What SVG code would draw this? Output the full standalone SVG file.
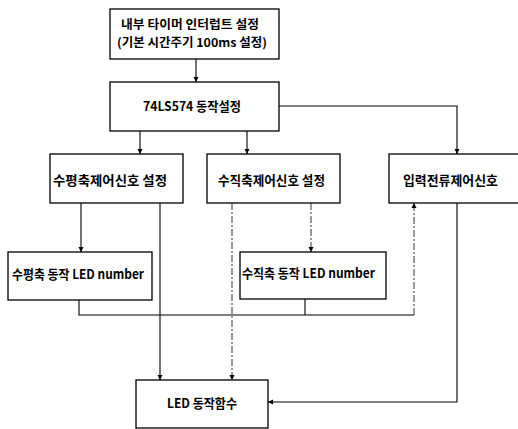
<svg xmlns="http://www.w3.org/2000/svg" width="518" height="429" viewBox="0 0 518 429">
<defs>
<marker id="ah" viewBox="0 0 10 10" refX="10" refY="5" markerWidth="5" markerHeight="7" markerUnits="userSpaceOnUse" orient="auto">
<path d="M0,0 L10,5 L0,10 z" fill="#000"/>
</marker>
<style>
.box{fill:#fff;stroke:#000;stroke-width:1.3}
.t{font-family:"Noto Sans CJK KR","Liberation Sans",sans-serif;font-size:13px;font-weight:bold;fill:#000}
.s{font-size:12px}
.c{fill:none;stroke:#000;stroke-width:1.1}
.d{fill:none;stroke:#333;stroke-width:1;stroke-dasharray:7,2,2,2}
</style>
</defs>
<rect width="518" height="429" fill="#fff"/>
<g id="connectors">
<path class="c" d="M196,59 V82" marker-end="url(#ah)"/>
<path class="c" d="M279,106 H457 V154" marker-end="url(#ah)"/>
<path class="c" d="M140,131 V154" marker-end="url(#ah)"/>
<path class="c" d="M247,131 V154" marker-end="url(#ah)"/>
<path class="c" d="M81,203 V252" marker-end="url(#ah)"/>
<path class="c" d="M160,203 V380" marker-end="url(#ah)"/>
<path class="d" d="M232,203 V380" marker-end="url(#ah)"/>
<path class="d" d="M311,203 V252" marker-end="url(#ah)"/>
<path class="c" d="M79,300 V315 H414"/>
<path class="d" d="M414,315 V203" marker-end="url(#ah)"/>
<path class="c" d="M305,299 V315"/>
<path class="c" d="M457,203 V402 H268" marker-end="url(#ah)"/>
</g>
<g id="n1">
<rect class="box" x="110" y="9" width="169" height="50"/>
<text class="t s" x="121" y="29" textLength="138" lengthAdjust="spacingAndGlyphs">내부 타이머 인터럽트 설정</text>
<text class="t s" x="117" y="47" textLength="150" lengthAdjust="spacingAndGlyphs">(기본 시간주기 100ms 설정)</text>
</g>
<g id="n2">
<rect class="box" x="110" y="82" width="169" height="49"/>
<text class="t" x="143" y="111" textLength="98" lengthAdjust="spacingAndGlyphs">74LS574 동작설정</text>
</g>
<g id="n3">
<rect class="box" x="50" y="154" width="133" height="49"/>
<text class="t" x="53" y="185" textLength="114" lengthAdjust="spacingAndGlyphs">수평축제어신호 설정</text>
</g>
<g id="n4">
<rect class="box" x="207" y="154" width="133" height="49"/>
<text class="t" x="218" y="185" textLength="107" lengthAdjust="spacingAndGlyphs">수직축제어신호 설정</text>
</g>
<g id="n5">
<rect class="box" x="389" y="154" width="140" height="49"/>
<text class="t" x="403" y="185" textLength="95" lengthAdjust="spacingAndGlyphs">입력전류제어신호</text>
</g>
<g id="n6">
<rect class="box" x="8" y="252" width="144" height="48"/>
<text class="t" x="12" y="279" textLength="132" lengthAdjust="spacingAndGlyphs">수평축 동작 LED number</text>
</g>
<g id="n7">
<rect class="box" x="240" y="252" width="146" height="47"/>
<text class="t" x="242" y="278" textLength="133" lengthAdjust="spacingAndGlyphs">수직축 동작 LED number</text>
</g>
<g id="n8">
<rect class="box" x="136" y="380" width="132" height="48"/>
<text class="t" x="167" y="408" textLength="70" lengthAdjust="spacingAndGlyphs">LED 동작함수</text>
</g>
</svg>
